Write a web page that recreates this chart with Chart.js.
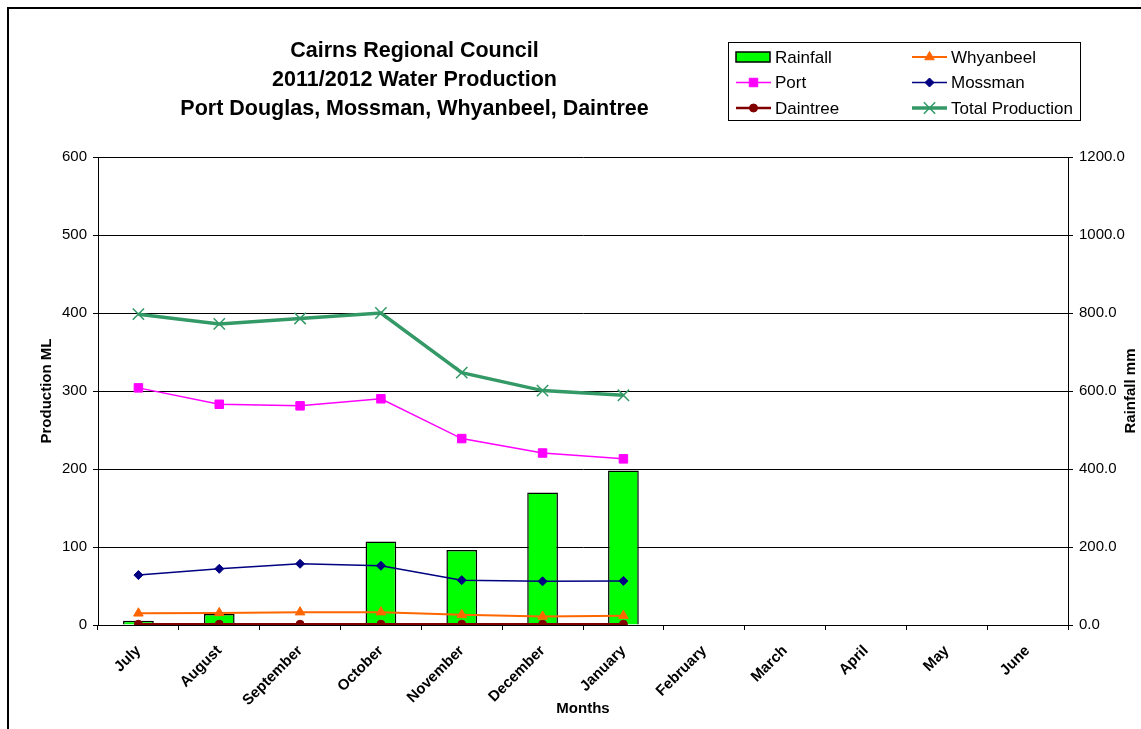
<!DOCTYPE html>
<html>
<head>
<meta charset="utf-8">
<script src="https://cdn.jsdelivr.net/npm/chart.js@4.4.1/dist/chart.umd.min.js"></script>
<style>
  body { margin: 0; background: #fff; }
  canvas { display: block; }
</style>
</head>
<body>
<canvas id="ChartWater" width="1141" height="729"></canvas>
<script>
const months = ['July', 'August', 'September', 'October', 'November', 'December', 'January', 'February', 'March', 'April', 'May', 'June'];
const rainfall = [11, 28, 0, 214, 192, 340, 396];
const whyanbeel = [15, 15.5, 16.5, 16.5, 13, 11, 12];
const port = [304, 283, 281, 290, 239, 220.5, 213];
const mossman = [64, 72, 78.5, 76, 57.5, 56, 56.5];
const daintree = [1, 1, 1, 1, 1, 1, 1];
const totalProduction = [398.5, 386, 393, 400, 323.5, 300.5, 294.5];
const titleLines = ['Cairns Regional Council', '2011/2012 Water Production', 'Port Douglas, Mossman, Whyanbeel, Daintree'];

const FONT = '"Liberation Sans", Arial, sans-serif';

// draws frame, title, axis titles and the boxed 2-column legend
const decorPlugin = {
    id: 'decor',
    beforeDraw(chart) {
        const ctx = chart.ctx;
        ctx.save();
        ctx.fillStyle = '#fff';
        ctx.fillRect(0, 0, chart.width, chart.height);
        ctx.strokeStyle = '#000';
        ctx.lineWidth = 2;
        ctx.strokeRect(8, 8, chart.width + 20, chart.height + 20);
        ctx.restore();
    },
    afterDraw(chart) {
        const ctx = chart.ctx;
        const area = chart.chartArea;
        ctx.save();
        ctx.fillStyle = '#000';
        ctx.textAlign = 'center';
        ctx.textBaseline = 'middle';
        ctx.font = 'bold 21.5px ' + FONT;
        titleLines.forEach(function (t, i) {
            ctx.fillText(t, 414.5, 51 + i * 29);
        });

        ctx.font = 'bold 15px ' + FONT;
        ctx.fillText('Months', (area.left + area.right) / 2, 709);
        ctx.save();
        ctx.translate(47, (area.top + area.bottom) / 2);
        ctx.rotate(-Math.PI / 2);
        ctx.fillText('Production ML', 0, 0);
        ctx.restore();
        ctx.save();
        ctx.translate(1131, (area.top + area.bottom) / 2);
        ctx.rotate(-Math.PI / 2);
        ctx.fillText('Rainfall mm', 0, 0);
        ctx.restore();

        // legend box
        ctx.strokeStyle = '#000';
        ctx.lineWidth = 1;
        ctx.strokeRect(728.5, 42.5, 352, 78);
        ctx.font = '17px ' + FONT;
        ctx.textAlign = 'left';
        chart.data.datasets.forEach(function (ds, i) {
            const col = i % 2, row = Math.floor(i / 2);
            const x0 = col === 0 ? 736 : 912;
            const y = 57 + row * 25.5;
            if (ds.type === 'bar') {
                ctx.fillStyle = ds.backgroundColor;
                ctx.fillRect(x0, y - 5, 34, 10);
                ctx.strokeStyle = '#000';
                ctx.lineWidth = 1.5;
                ctx.strokeRect(x0, y - 5, 34, 10);
            } else {
                ctx.strokeStyle = ds.borderColor;
                ctx.lineWidth = ds.borderWidth;
                ctx.beginPath();
                ctx.moveTo(x0, y);
                ctx.lineTo(x0 + 35, y);
                ctx.stroke();
                ctx.fillStyle = ds.pointBackgroundColor;
                ctx.strokeStyle = ds.pointBorderColor;
                ctx.lineWidth = ds.pointBorderWidth;
                Chart.helpers.drawPoint(ctx, {
                    pointStyle: ds.pointStyle,
                    radius: ds.pointRadius,
                    rotation: 0,
                    borderWidth: ds.pointBorderWidth
                }, x0 + 17.5, y);
            }
            ctx.fillStyle = '#000';
            ctx.fillText(ds.label, x0 + 39, y + 1);
        });
        ctx.restore();
    }
};

function lineSet(label, data, color, style, radius, width) {
    return {
        type: 'line',
        label: label,
        data: data,
        yAxisID: 'y',
        borderColor: color,
        backgroundColor: color,
        borderWidth: width,
        pointStyle: style,
        pointRadius: radius,
        pointHoverRadius: radius,
        pointBackgroundColor: color,
        pointBorderColor: color,
        pointBorderWidth: style === 'crossRot' ? 1.5 : 1,
        tension: 0,
        order: 1
    };
}

new Chart(document.getElementById('ChartWater'), {
    type: 'bar',
    data: {
        labels: months,
        datasets: [
            {
                type: 'bar',
                label: 'Rainfall',
                data: rainfall,
                yAxisID: 'y1',
                backgroundColor: '#00ff00',
                borderColor: '#000',
                borderWidth: 1.5,
                barPercentage: 0.38,
                categoryPercentage: 1,
                order: 2
            },
            lineSet('Whyanbeel', whyanbeel, '#ff6600', 'triangle', 5.5, 2),
            lineSet('Port', port, '#ff00ff', 'rect', 6, 1.5),
            lineSet('Mossman', mossman, '#000080', 'rectRot', 4.5, 1.5),
            lineSet('Daintree', daintree, '#800000', 'circle', 4, 2.5),
            lineSet('Total Production', totalProduction, '#339966', 'crossRot', 8, 3.5)
        ]
    },
    options: {
        responsive: false,
        animation: false,
        layout: { padding: { top: 157, left: 0, right: 0, bottom: 0 } },
        plugins: {
            legend: { display: false },
            title: { display: false },
            tooltip: { enabled: false }
        },
        scales: {
            x: {
                offset: true,
                afterFit: function (scale) { scale.height = 104; },
                grid: { offset: true, drawOnChartArea: false, drawTicks: true, tickLength: 5, color: '#000' },
                border: { color: '#000', width: 1 },
                ticks: {
                    color: '#000',
                    font: { family: FONT, size: 15, weight: 'bold' },
                    minRotation: 45,
                    maxRotation: 45,
                    autoSkip: false,
                    padding: 12
                }
            },
            y: {
                position: 'left',
                min: 0,
                max: 600,
                afterFit: function (scale) { scale.width = 98; },
                grid: { color: '#000', lineWidth: 1, tickLength: 5 },
                border: { color: '#000', width: 1 },
                ticks: {
                    stepSize: 100,
                    color: '#000',
                    padding: 6,
                    font: { family: FONT, size: 15 }
                }
            },
            y1: {
                position: 'right',
                min: 0,
                max: 1200,
                afterFit: function (scale) { scale.width = 73; },
                grid: { drawOnChartArea: false, color: '#000', tickLength: 5 },
                border: { color: '#000', width: 1 },
                ticks: {
                    stepSize: 200,
                    color: '#000',
                    padding: 6,
                    font: { family: FONT, size: 15 },
                    callback: function (v) { return v.toFixed(1); }
                }
            }
        }
    },
    plugins: [decorPlugin]
});
</script>
</body>
</html>
